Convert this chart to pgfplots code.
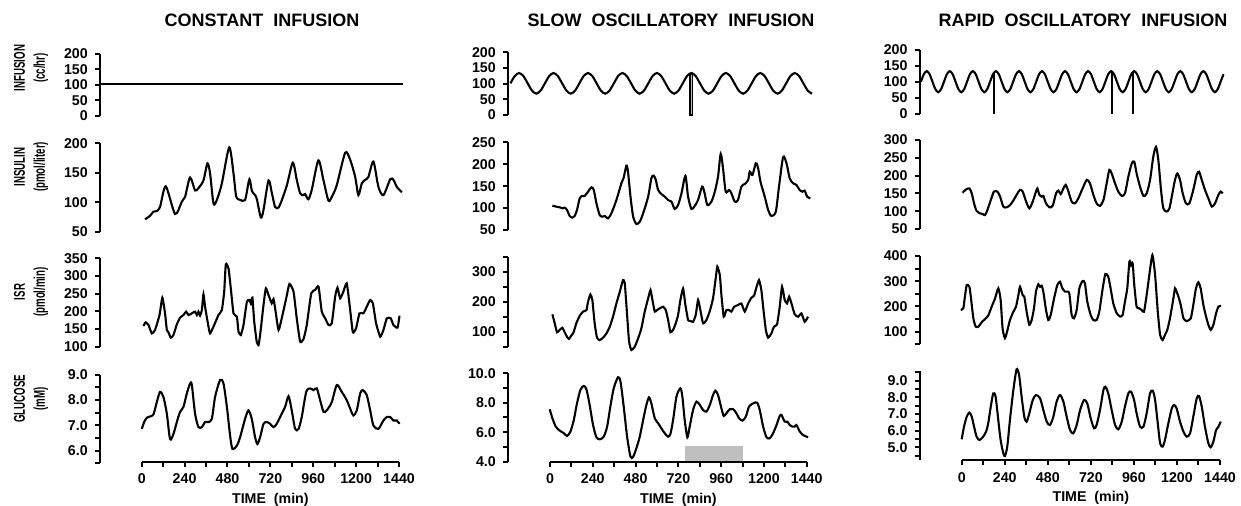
\documentclass[border=0pt]{standalone}
\usepackage{fontspec}
\setmainfont{Liberation Sans}
\usepackage{graphicx}
\usepackage{pgfplots}
\pgfplotsset{compat=1.18}
\newcommand{\tl}{\fontsize{7.1}{7}\selectfont\bfseries}
\newcommand{\yl}[2]{\scalebox{0.62}[1]{#1}\\\scalebox{0.62}[1]{#2}}
\pgfplotsset{
  base/.style={scale only axis, clip=false,
    /pgf/number format/assume math mode=true,
    tick label style={font=\tl},
    label style={font=\tl},
    axis line style={line width=1pt, black},
    tick style={line width=1pt, black},
    major tick length=2.6pt, minor tick length=2.6pt,
    tick align=outside},
  panel/.style={base, axis x line=none, axis y line*=left,
    xmin=-234, xmax=1470, anchor=south west},
  dl/.style={black, line width=1.05pt, smooth, tension=0.45, mark=none},
  taxis/.style={base, axis x line*=bottom, axis y line=none,
    xmin=0, xmax=1440, ymin=0, ymax=1, height=0.5pt, anchor=south west,
    xtick={0,240,480,720,960,1200,1440},
    xticklabels={0,240,480,720,960,1200,1440},
    minor xtick={120,360,600,840,1080,1320},
    xlabel={TIME\ \ (min)}, xlabel style={inner sep=0pt, yshift=-1pt}},
}
\begin{document}
\begin{tikzpicture}[x=0.5pt,y=-0.5pt]
\useasboundingbox (0,0) rectangle (1241,506);
\tikzset{ttl/.style={font=\fontsize{9}{10}\selectfont\bfseries},
  ylab/.style={rotate=90, align=center, font=\fontsize{7.8}{10}\selectfont\bfseries}}
\node[ttl] at (262,20) {CONSTANT\ \ INFUSION};
\node[ttl] at (671,20) {SLOW\ \ OSCILLATORY\ \ INFUSION};
\node[ttl] at (1083,20) {RAPID\ \ OSCILLATORY\ \ INFUSION};
\node[ylab] at (31,68) {\yl{INFUSION}{(cc/hr)}};
\node[ylab] at (31,167) {\yl{INSULIN}{(pmol/liter)}};
\node[ylab] at (31,292) {\yl{ISR}{(pmol/min)}};
\node[ylab] at (31,399) {\yl{GLUCOSE}{(mM)}};

% ================= COLUMN 1 =================
\begin{axis}[panel, at={(50pt,-58pt)}, width=152.25pt, height=31pt, ymin=0, ymax=200,
  ytick={0,50,100,150,200}, yticklabels={0,50,100,150,200}]
\addplot[dl, sharp plot] coordinates {(-234,102)(1462,102)};
\end{axis}
\begin{axis}[panel, at={(50pt,-115.85pt)}, width=152.25pt, height=44.2pt, ymin=50, ymax=200,
  ytick={50,100,150,200}, yticklabels={50,100,150,200}]
\addplot[dl] coordinates {(18,71)(46,77)(65,84)(84,85)(102,92)(134,127)(186,80)(224,101)(242,109)(270,142)(298,120)(317,124)(345,137)(367,166)(382,149)(401,98)(420,104)(448,132)(489,193)(513,149)(528,110)(550,104)(578,104)(602,139)(616,119)(634,112)(644,105)(666,74)(681,87)(709,137)(728,115)(746,92)(765,91)(784,104)(812,129)(845,167)(867,138)(886,115)(904,112)(914,114)(932,105)(951,121)(988,171)(1016,138)(1044,103)(1063,109)(1091,129)(1138,184)(1166,172)(1194,143)(1212,112)(1231,132)(1250,138)(1268,143)(1296,169)(1324,126)(1352,112)(1390,139)(1408,138)(1427,126)(1455,117)};
\end{axis}
\begin{axis}[panel, at={(50pt,-173.35pt)}, width=152.25pt, height=44.2pt, ymin=100, ymax=350,
  ytick={100,150,200,250,300,350}, yticklabels={100,150,200,250,300,350}]
\addplot[dl, tension=0.3] coordinates {(9,158.5)(22,168.9)(37,161.3)(56,137.7)(74,147.2)(99,189.6)(115,238.7)(130,194.3)(140,147.2)(149,140.6)(162,125.5)(177,133)(196,163.2)(214,182.1)(233,189.6)(248,199.1)(261,189.6)(280,194.3)(298,199.1)(308,189.6)(317,199.1)(326,187.7)(336,203.8)(345,248.1)(354,213.2)(373,156.6)(382,137.7)(401,156.6)(429,189.6)(448,203.8)(461,255.7)(470,333)(485,321.7)(498,265.1)(513,194.3)(532,184.9)(541,142.5)(554,133)(569,161.3)(588,227.4)(602,232.1)(610,222.6)(619,238.7)(629,170.8)(643,114.2)(653,104.7)(662,133)(681,217.9)(694,265.1)(709,246.2)(727,222.6)(737,234.9)(746,208.5)(765,147.2)(783,180.2)(808,236.8)(826,277.4)(849,255.7)(867,180.2)(886,114.2)(905,121.7)(923,161.3)(948,250.9)(970,260.4)(989,269.8)(1007,199.1)(1026,180.2)(1045,161.3)(1063,166)(1082,241.5)(1095,267)(1110,236.8)(1128,255.7)(1147,279.2)(1166,203.8)(1181,140.6)(1199,152)(1218,194.3)(1240,194.3)(1259,213.2)(1278,232.1)(1293,222.6)(1311,166)(1334,128.3)(1352,147.2)(1371,180.2)(1393,180.2)(1408,161.3)(1431,153.8)(1442,187.7)};
\end{axis}
\begin{axis}[panel, at={(50pt,-231.65pt)}, width=152.25pt, height=44.3pt, ymin=5.5, ymax=9,
  ytick={6,7,8,9}, yticklabels={6.0,7.0,8.0,9.0}, minor ytick={5.5,6.5,7.5,8.5}]
\addplot[dl] coordinates {(0,6.86)(13,7.13)(28,7.30)(46,7.35)(65,7.43)(84,7.92)(102,8.32)(121,8.12)(140,7.46)(158,6.46)(177,6.66)(196,7.13)(214,7.53)(233,7.73)(252,8.26)(270,8.65)(280,8.59)(298,7.46)(317,6.93)(336,6.93)(354,7.13)(373,7.13)(392,7.26)(410,8.12)(438,8.79)(457,8.65)(476,7.73)(494,6.60)(507,6.07)(532,6.20)(550,6.53)(578,7.26)(597,7.59)(615,7.26)(634,6.53)(647,6.26)(662,6.53)(681,7.06)(699,7.13)(718,7.06)(737,6.93)(755,7.06)(783,7.46)(802,7.73)(821,8.15)(839,7.59)(858,6.86)(877,6.86)(895,7.33)(920,8.32)(942,8.46)(961,8.39)(979,8.46)(998,7.99)(1017,7.53)(1035,7.59)(1063,7.92)(1091,8.59)(1119,8.32)(1147,7.99)(1166,7.66)(1184,7.39)(1203,7.59)(1222,8.26)(1237,8.39)(1259,8.19)(1278,7.59)(1296,6.99)(1324,6.86)(1352,7.19)(1371,7.33)(1390,7.33)(1408,7.19)(1427,7.19)(1442,7.06)};
\end{axis}
\begin{axis}[taxis, at={(70.85pt,-230.85pt)}, width=128.65pt]
\end{axis}

% ================= COLUMN 2 =================
\begin{axis}[panel, at={(254pt,-57.5pt)}, width=151.9pt, height=31.35pt, ymin=0, ymax=200,
  ytick={0,50,100,150,200}, yticklabels={0,50,100,150,200}]
\addplot[dl] coordinates {(-220.3,101)(-196.2,124.3)(-172,134)(-147.8,124.3)(-123.7,101)(-99.5,77.7)(-75.4,68)(-51.2,77.7)(-27,101)(-2.9,124.3)(21.3,134)(45.5,124.3)(69.6,101)(93.8,77.7)(118,68)(142.1,77.7)(166.3,101)(190.4,124.3)(214.6,134)(238.8,124.3)(262.9,101)(287.1,77.7)(311.3,68)(335.4,77.7)(359.6,101)(383.7,124.3)(407.9,134)(432.1,124.3)(456.2,101)(480.4,77.7)(504.5,68)(528.7,77.7)(552.9,101)(577,124.3)(601.2,134)(625.4,124.3)(649.5,101)(673.7,77.7)(697.9,68)(722,77.7)(746.2,101)(770.3,124.3)(794.5,134)(818.7,124.3)(842.8,101)(867,77.7)(891.2,68)(915.3,77.7)(939.5,101)(963.6,124.3)(987.8,134)(1012,124.3)(1036.1,101)(1060.3,77.7)(1084.5,68)(1108.6,77.7)(1132.8,101)(1156.9,124.3)(1181.1,134)(1205.3,124.3)(1229.4,101)(1253.6,77.7)(1277.8,68)(1301.9,77.7)(1326.1,101)(1350.2,124.3)(1374.4,134)(1398.6,124.3)(1422.7,101)(1446.9,77.7)(1471.1,68)};
\addplot[black, sharp plot, fill=gray!55, line width=0.9pt] coordinates {(788,0)(788,132)(801,132)(801,0)} -- cycle;
\end{axis}
\begin{axis}[panel, at={(254pt,-115pt)}, width=151.9pt, height=43.85pt, ymin=50, ymax=250,
  ytick={50,100,150,200,250}, yticklabels={50,100,150,200,250}]
\addplot[dl] coordinates {(15,105.5)(37,103.2)(56,101.7)(71,99.4)(84,100.9)(97,95.6)(112,81.9)(127,78.1)(140,81.9)(153,95.6)(168,122.2)(183,127.6)(196,127.6)(215,137.4)(234,147.3)(247,141.2)(262,110.8)(280,84.2)(295,80.4)(309,81.9)(327,76.6)(346,88)(374,118.4)(402,156.5)(415,169.4)(430,196.8)(439,183.1)(453,126)(468,80.4)(486,63.7)(505,69)(524,88)(552,126)(570,167.9)(583,174)(595,164.1)(608,141.2)(626,132.1)(645,126)(664,118.4)(683,114.6)(701,97.9)(720,107)(739,133.6)(761,173.2)(776,126)(795,97.9)(813,104.7)(832,118.4)(855,148.9)(869,133.6)(884,107)(907,114.6)(926,137.4)(944,171.7)(959,223.4)(972,190.7)(987,137.4)(1006,141.2)(1019,133.6)(1038,114.6)(1056,118.4)(1075,148.9)(1094,154.9)(1113,164.1)(1122,183.1)(1137,175.5)(1156,202.1)(1169,190.7)(1182,160.3)(1206,126)(1225,95.6)(1243,81.9)(1268,91.8)(1286,148.9)(1309,215.8)(1328,202.1)(1346,167.9)(1365,156.5)(1384,152.7)(1402,141.2)(1417,137.4)(1430,139.7)(1444,126)(1462,122.2)};
\end{axis}
\begin{axis}[panel, at={(254pt,-173.35pt)}, width=151.9pt, height=45pt, ymin=50, ymax=350,
  ytick={100,200,300}, yticklabels={100,200,300}, minor ytick={50,150,250,350}]
\addplot[dl, tension=0.3] coordinates {(15,158)(28,128)(41,98)(56,106)(71,113)(84,98)(97,83)(108,76)(121,87)(134,98)(149,128)(168,153)(187,167)(206,172)(215,200)(228,224)(239,206)(252,128)(265,80)(280,72)(299,80)(318,94)(337,117)(355,150)(374,194)(393,233)(411,272)(421,261)(434,156)(445,67)(458,39)(477,50)(496,78)(514,111)(533,167)(552,211)(565,239)(576,206)(589,167)(602,172)(617,178)(636,183)(651,172)(664,139)(677,98)(692,106)(707,128)(720,156)(733,206)(748,244)(761,189)(776,139)(789,136)(804,133)(819,156)(832,206)(845,172)(860,128)(879,139)(897,167)(916,211)(931,278)(940,317)(954,289)(963,222)(976,150)(991,172)(1006,172)(1019,167)(1034,183)(1056,189)(1075,194)(1094,167)(1113,194)(1131,213)(1146,220)(1159,247)(1174,272)(1187,239)(1197,183)(1212,106)(1225,80)(1243,94)(1258,117)(1275,124)(1290,183)(1303,250)(1318,206)(1331,194)(1343,217)(1356,194)(1374,158)(1393,150)(1412,161)(1430,133)(1449,150)};
\end{axis}
\begin{axis}[panel, at={(254pt,-230.85pt)}, width=151.9pt, height=44.2pt, ymin=4, ymax=10,
  ytick={4,6,8,10}, yticklabels={4.0,6.0,8.0,10.0}, minor ytick={5,7,9}]
\addplot[sharp plot, draw=none, fill=gray!50] coordinates {(757,4)(757,5.05)(1084,5.05)(1084,4)} -- cycle;
\addplot[dl] coordinates {(0,7.56)(15,6.95)(34,6.38)(56,6.11)(80,5.93)(97,5.75)(116,6.04)(135,6.83)(153,7.96)(172,8.87)(191,9.14)(206,8.91)(224,7.85)(243,6.49)(262,5.66)(281,5.52)(303,5.70)(322,6.38)(340,7.74)(359,8.98)(383,9.73)(397,9.43)(415,7.74)(434,5.70)(453,4.34)(468,4.34)(486,4.91)(505,5.70)(524,6.83)(542,7.85)(557,8.37)(570,7.96)(589,6.95)(608,6.61)(626,6.27)(645,5.93)(664,5.70)(677,5.88)(692,6.83)(711,8.42)(733,8.98)(744,8.42)(757,6.83)(772,5.66)(785,6.38)(804,7.51)(823,8.08)(842,7.85)(860,7.51)(879,7.40)(898,7.85)(916,8.53)(929,8.82)(944,8.53)(963,7.62)(976,7.10)(991,7.29)(1010,7.56)(1029,7.56)(1047,7.29)(1062,6.95)(1081,6.79)(1100,7.06)(1118,7.74)(1141,7.96)(1163,8.01)(1178,7.51)(1197,6.38)(1216,5.66)(1234,5.59)(1253,5.93)(1272,6.49)(1290,7.10)(1300,7.17)(1318,6.72)(1333,6.72)(1346,6.49)(1361,6.38)(1374,6.38)(1384,6.49)(1403,6.04)(1421,5.81)(1449,5.66)};
\end{axis}
\begin{axis}[taxis, at={(275pt,-230.85pt)}, width=128.35pt]
\end{axis}

% ================= COLUMN 3 =================
\begin{axis}[panel, at={(459.85pt,-57pt)}, width=152.85pt, height=32pt, ymin=0, ymax=200,
  ytick={0,50,100,150,200}, yticklabels={0,50,100,150,200}]
\addplot[dl] coordinates {(-227.1,101)(-211.1,124.3)(-195,134)(-178.9,124.3)(-162.9,101)(-146.8,77.7)(-130.8,68)(-114.7,77.7)(-98.6,101)(-82.6,124.3)(-66.5,134)(-50.4,124.3)(-34.4,101)(-18.3,77.7)(-2.3,68)(13.8,77.7)(29.9,101)(45.9,124.3)(62,134)(78.1,124.3)(94.1,101)(110.2,77.7)(126.3,68)(142.3,77.7)(158.4,101)(174.4,124.3)(190.5,134)(206.6,124.3)(222.6,101)(238.7,77.7)(254.8,68)(270.8,77.7)(286.9,101)(302.9,124.3)(319,134)(335.1,124.3)(351.1,101)(367.2,77.7)(383.3,68)(399.3,77.7)(415.4,101)(431.4,124.3)(447.5,134)(463.6,124.3)(479.6,101)(495.7,77.7)(511.8,68)(527.8,77.7)(543.9,101)(559.9,124.3)(576,134)(592.1,124.3)(608.1,101)(624.2,77.7)(640.3,68)(656.3,77.7)(672.4,101)(688.4,124.3)(704.5,134)(720.6,124.3)(736.6,101)(752.7,77.7)(768.8,68)(784.8,77.7)(800.9,101)(816.9,124.3)(833,134)(849.1,124.3)(865.1,101)(881.2,77.7)(897.3,68)(913.3,77.7)(929.4,101)(945.4,124.3)(961.5,134)(977.6,124.3)(993.6,101)(1009.7,77.7)(1025.8,68)(1041.8,77.7)(1057.9,101)(1073.9,124.3)(1090,134)(1106.1,124.3)(1122.1,101)(1138.2,77.7)(1154.3,68)(1170.3,77.7)(1186.4,101)(1202.4,124.3)(1218.5,134)(1234.6,124.3)(1250.6,101)(1266.7,77.7)(1282.8,68)(1298.8,77.7)(1314.9,101)(1330.9,124.3)(1347,134)(1363.1,124.3)(1379.1,101)(1395.2,77.7)(1411.3,68)(1427.3,77.7)(1443.4,101)(1459.4,124.3)};
\addplot[dl, sharp plot] coordinates {(180,0)(180,132)};
\addplot[dl, sharp plot] coordinates {(836,0)(836,134)};
\addplot[dl, sharp plot] coordinates {(956,0)(956,132)};
\end{axis}
\begin{axis}[panel, at={(459.85pt,-114.5pt)}, width=152.85pt, height=44.5pt, ymin=50, ymax=300,
  ytick={50,100,150,200,250,300}, yticklabels={50,100,150,200,250,300}]
\addplot[dl] coordinates {(5,152)(24,161)(43,164)(56,150)(69,122)(83,101)(102,94)(117,92)(130,89)(143,103)(162,131)(180,155)(199,155)(214,141)(232,113)(251,111)(269,117)(288,130)(306,146)(325,160)(340,155)(359,127)(377,108)(396,127)(414,155)(422,164)(433,146)(446,141)(455,143)(470,122)(489,111)(507,115)(526,150)(539,158)(552,148)(567,164)(580,174)(595,155)(613,127)(632,122)(650,136)(674,164)(697,188)(715,178)(734,146)(752,122)(771,115)(790,131)(808,178)(823,216)(836,206)(855,178)(873,155)(892,143)(910,150)(929,197)(948,234)(962,239)(975,206)(994,169)(1013,143)(1031,150)(1050,188)(1068,253)(1083,281)(1096,244)(1111,160)(1124,108)(1143,99)(1158,108)(1171,141)(1189,188)(1202,206)(1217,188)(1232,150)(1250,122)(1269,122)(1291,160)(1310,202)(1323,211)(1338,188)(1356,160)(1375,136)(1394,113)(1412,122)(1431,146)(1444,155)(1455,150)};
\end{axis}
\begin{axis}[panel, at={(459.85pt,-172.15pt)}, width=152.85pt, height=44.15pt, ymin=50, ymax=400,
  ytick={100,200,300,400}, yticklabels={100,200,300,400}, minor ytick={50,150,250,350}]
\addplot[dl, tension=0.35] coordinates {(-5,186)(9,193)(18,239)(28,285)(43,278)(52,232)(65,153)(78,120)(93,120)(111,137)(130,150)(148,164)(167,199)(186,232)(204,272)(217,226)(228,113)(241,74)(254,103)(269,146)(288,179)(303,199)(316,245)(325,278)(340,245)(349,239)(362,179)(377,127)(390,146)(403,193)(414,259)(427,288)(437,278)(446,282)(455,259)(470,186)(483,146)(496,166)(515,232)(533,285)(548,298)(561,272)(576,259)(589,259)(600,252)(613,166)(626,153)(641,186)(656,272)(674,301)(687,292)(700,219)(719,166)(734,146)(752,146)(767,179)(786,272)(801,329)(817,318)(830,272)(845,212)(864,173)(883,160)(897,166)(910,219)(923,272)(935,378)(944,364)(953,371)(962,285)(975,199)(988,193)(1003,186)(1016,179)(1031,245)(1046,325)(1063,404)(1078,325)(1093,179)(1106,87)(1120,67)(1133,87)(1146,107)(1161,153)(1180,232)(1189,272)(1198,259)(1208,239)(1221,206)(1236,153)(1254,142)(1277,153)(1291,206)(1306,272)(1319,296)(1332,272)(1347,206)(1362,160)(1375,127)(1388,107)(1403,127)(1418,173)(1431,199)(1446,202)};
\end{axis}
\begin{axis}[panel, at={(459.85pt,-229.9pt)}, width=152.85pt, height=44.55pt, ymin=4.25, ymax=9.6,
  ytick={5,6,7,8,9}, yticklabels={5.0,6.0,7.0,8.0,9.0}, minor ytick={4.5,5.5,6.5,7.5,8.5,9.5}]
\addplot[dl] coordinates {(0,5.48)(13,6.24)(28,6.84)(43,7.08)(56,6.84)(69,6.24)(83,5.64)(98,5.44)(117,5.60)(136,5.94)(148,6.44)(162,7.44)(176,8.24)(189,8.04)(204,6.64)(217,5.44)(232,4.64)(241,4.48)(254,5.04)(269,6.64)(288,8.44)(306,9.68)(320,9.34)(334,8.04)(349,6.84)(362,6.54)(377,7.04)(396,7.84)(414,8.14)(437,7.94)(455,7.24)(474,6.54)(492,6.34)(511,6.84)(529,7.74)(548,8.14)(567,7.74)(585,6.84)(604,6.04)(622,5.84)(641,6.34)(660,7.24)(682,7.84)(700,7.64)(719,6.74)(738,6.14)(752,6.34)(771,7.24)(790,8.44)(801,8.64)(817,8.24)(836,7.24)(855,6.34)(873,6.08)(892,6.54)(910,7.44)(929,8.24)(944,8.34)(961,7.84)(975,7.04)(994,6.24)(1013,6.24)(1031,7.04)(1050,8.24)(1065,8.40)(1078,7.84)(1093,6.44)(1106,5.24)(1120,5.04)(1133,5.44)(1152,6.44)(1171,7.34)(1184,7.54)(1198,7.34)(1217,6.54)(1236,5.94)(1254,5.64)(1273,5.84)(1291,6.84)(1310,7.94)(1323,8.08)(1338,7.44)(1356,6.24)(1375,5.24)(1388,5.00)(1403,5.34)(1418,6.04)(1431,6.24)(1444,6.54)};
\end{axis}
\begin{axis}[taxis, at={(480.85pt,-230pt)}, width=129.15pt]
\end{axis}
\end{tikzpicture}
\end{document}
